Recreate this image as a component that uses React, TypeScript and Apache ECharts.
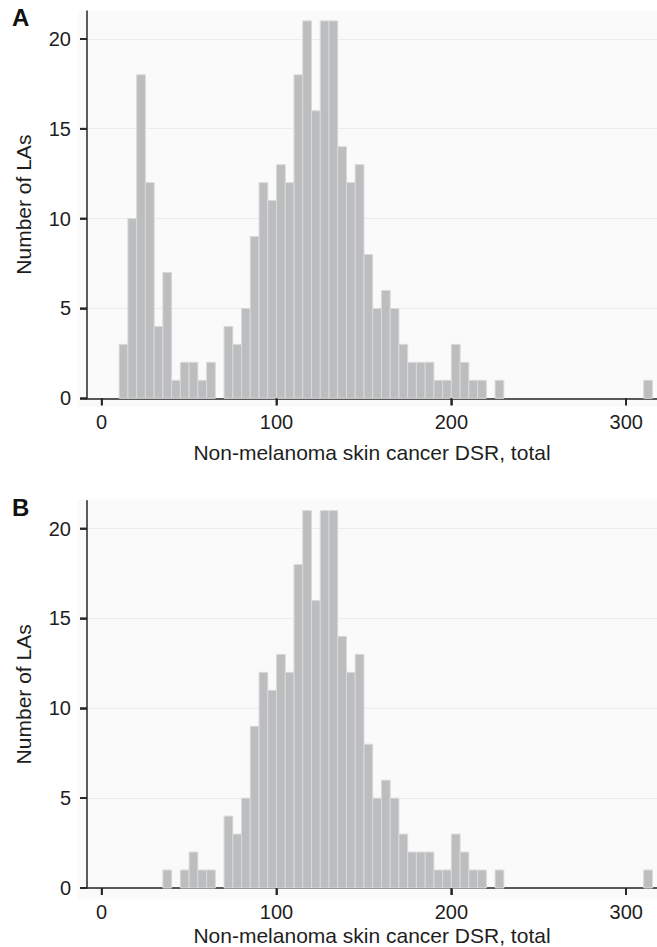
import React, { useEffect, useRef } from "react";
import * as echarts from "echarts";

// Histogram bins (start of 5-unit bin) and counts, panel A
const binStartsA = [10, 15, 20, 25, 30, 35, 40, 45, 50, 55, 60, 70, 75, 80, 85, 90, 95, 100, 105, 110, 115, 120, 125, 130, 135, 140, 145, 150, 155, 160, 165, 170, 175, 180, 185, 190, 195, 200, 205, 210, 215, 225, 310];
const countsA = [3, 10, 18, 12, 4, 7, 1, 2, 2, 1, 2, 4, 3, 5, 9, 12, 11, 13, 12, 18, 21, 16, 21, 21, 14, 12, 13, 8, 5, 6, 5, 3, 2, 2, 2, 1, 1, 3, 2, 1, 1, 1, 1];

// Panel B
const binStartsB = [35, 45, 50, 55, 60, 70, 75, 80, 85, 90, 95, 100, 105, 110, 115, 120, 125, 130, 135, 140, 145, 150, 155, 160, 165, 170, 175, 180, 185, 190, 195, 200, 205, 210, 215, 225, 310];
const countsB = [1, 1, 2, 1, 1, 4, 3, 5, 9, 12, 11, 13, 12, 18, 21, 16, 21, 21, 14, 12, 13, 8, 5, 6, 5, 3, 2, 2, 2, 1, 1, 3, 2, 1, 1, 1, 1];

const binWidth = 5;
const xTicks = [0, 100, 200, 300];
const yTicks = [0, 5, 10, 15, 20];
const xTitle = "Non-melanoma skin cancer DSR, total";
const yTitle = "Number of LAs";
const panelLabels = ["A", "B"];

const X_MIN = -8.4;
const X_MAX = 317.6;
const Y_MIN = 0;
const Y_MAX = 21.55;

const FONT = "'Liberation Sans', Arial, Helvetica, sans-serif";
const TXT = "#1e1e1e";
const AXIS = "#262626";
const TICK_LEN = 7;
const TICK_W = 1.6;

function App() {
  const ref = useRef<HTMLDivElement>(null);
  useEffect(() => {
    if (!ref.current) return;
    const chart = echarts.init(ref.current, null, { renderer: "svg" });

    const grids = [
      { left: 87, top: 11, width: 570, height: 387.3 },
      { left: 87, top: 500.7, width: 570, height: 388.6 },
    ];
    const nameGaps = [44, 37];

    const mkX = (i: number) => ({
      type: "value",
      gridIndex: i,
      min: X_MIN,
      max: X_MAX,
      name: xTitle,
      nameLocation: "middle",
      nameGap: nameGaps[i],
      nameTextStyle: { fontFamily: FONT, fontSize: 21, color: TXT },
      axisLine: { show: true, onZero: false, lineStyle: { color: AXIS, width: 1.5 } },
      axisTick: { show: true, inside: false, length: TICK_LEN, lineStyle: { color: AXIS, width: TICK_W }, customValues: xTicks },
      axisLabel: { show: true, fontFamily: FONT, fontSize: 20, color: TXT, margin: 14, customValues: xTicks },
      splitLine: { show: false },
    });
    const mkY = (i: number) => ({
      type: "value",
      gridIndex: i,
      min: Y_MIN,
      max: Y_MAX,
      name: yTitle,
      nameLocation: "middle",
      nameGap: 53,
      nameTextStyle: { fontFamily: FONT, fontSize: 21, color: TXT },
      axisLine: { show: true, onZero: false, lineStyle: { color: AXIS, width: 1.5 } },
      axisTick: { show: true, inside: false, length: TICK_LEN, lineStyle: { color: AXIS, width: TICK_W }, customValues: yTicks },
      axisLabel: { show: true, fontFamily: FONT, fontSize: 20, color: TXT, margin: 16, customValues: yTicks },
      splitLine: { show: true, lineStyle: { color: "#ececec", width: 1 } },
    });

    const mkSeries = (i: number, starts: number[], counts: number[]) => ({
      type: "custom",
      xAxisIndex: i,
      yAxisIndex: i,
      encode: { x: [0, 1], y: 2 },
      data: starts.map((s, k) => [s, s + binWidth, counts[k]]),
      renderItem: (_p: any, api: any) => {
        const p0 = api.coord([api.value(0), api.value(2)]);
        const p1 = api.coord([api.value(1), 0]);
        return {
          type: "rect",
          shape: { x: p0[0], y: p0[1], width: p1[0] - p0[0], height: p1[1] - p0[1] },
          style: { fill: "#bcbdbf", stroke: "#d9d9da", lineWidth: 1 },
        };
      },
    });

    // tick marks as small filled rects, placed through the axes' scales
    const mkXTicks = (i: number) => ({
      type: "custom",
      xAxisIndex: i,
      yAxisIndex: i,
      z: 6,
      clip: false,
      silent: true,
      encode: { x: 0, y: 1 },
      data: xTicks.map((v) => [v, Y_MIN]),
      renderItem: (_p: any, api: any) => {
        const p = api.coord([api.value(0), Y_MIN]);
        return {
          type: "rect",
          shape: { x: p[0] - TICK_W / 2, y: p[1], width: TICK_W, height: TICK_LEN },
          style: { fill: AXIS },
        };
      },
    });
    const mkYTicks = (i: number) => ({
      type: "custom",
      xAxisIndex: i,
      yAxisIndex: i,
      z: 6,
      clip: false,
      silent: true,
      encode: { x: 0, y: 1 },
      data: yTicks.map((v) => [X_MIN, v]),
      renderItem: (_p: any, api: any) => {
        const p = api.coord([X_MIN, api.value(1)]);
        return {
          type: "rect",
          shape: { x: p[0] - TICK_LEN, y: p[1] - TICK_W / 2, width: TICK_LEN, height: TICK_W },
          style: { fill: AXIS },
        };
      },
    });

    const baseGraphic: any[] = [
      { type: "rect", z: -10, silent: true, shape: { x: 78, y: 10, width: 579, height: 397 }, style: { fill: "#fafafa" } },
      { type: "rect", z: -10, silent: true, shape: { x: 78, y: 499.5, width: 579, height: 400 }, style: { fill: "#fafafa" } },
      { type: "text", x: 12, y: 5, style: { text: panelLabels[0], fontFamily: FONT, fontSize: 24, fontWeight: "bold", fill: "#111" } },
      { type: "text", x: 12, y: 495, style: { text: panelLabels[1], fontFamily: FONT, fontSize: 24, fontWeight: "bold", fill: "#111" } },
    ];

    chart.setOption({
      animation: false,
      backgroundColor: "#ffffff",
      grid: grids,
      xAxis: [mkX(0), mkX(1)],
      yAxis: [mkY(0), mkY(1)],
      series: [
        mkSeries(0, binStartsA, countsA),
        mkSeries(1, binStartsB, countsB),
        mkXTicks(0),
        mkXTicks(1),
        mkYTicks(0),
        mkYTicks(1),
      ],
      graphic: baseGraphic,
    });

    // also add tick rects as graphics, positioned via convertToPixel
    const num = (r: any) => (Array.isArray(r) ? r[0] : r);
    const ticks: any[] = [];
    [0, 1].forEach((i) => {
      const axisY = num(chart.convertToPixel({ yAxisIndex: i } as any, Y_MIN));
      const axisX = num(chart.convertToPixel({ xAxisIndex: i } as any, X_MIN));
      xTicks.forEach((v) => {
        const px = num(chart.convertToPixel({ xAxisIndex: i } as any, v));
        if (isFinite(px) && isFinite(axisY)) {
          ticks.push({ type: "rect", z: 60, silent: true, shape: { x: px - TICK_W / 2, y: axisY, width: TICK_W, height: TICK_LEN }, style: { fill: AXIS } });
        }
      });
      yTicks.forEach((v) => {
        const py = num(chart.convertToPixel({ yAxisIndex: i } as any, v));
        if (isFinite(py) && isFinite(axisX)) {
          ticks.push({ type: "rect", z: 60, silent: true, shape: { x: axisX - TICK_LEN, y: py - TICK_W / 2, width: TICK_LEN, height: TICK_W }, style: { fill: AXIS } });
        }
      });
    });
    chart.setOption({ graphic: baseGraphic.concat(ticks) });

    return () => chart.dispose();
  }, []);
  return <div ref={ref} style={{ position: "absolute", left: 0, top: 0, width: 657, height: 947 }} />;
}

export default App;
